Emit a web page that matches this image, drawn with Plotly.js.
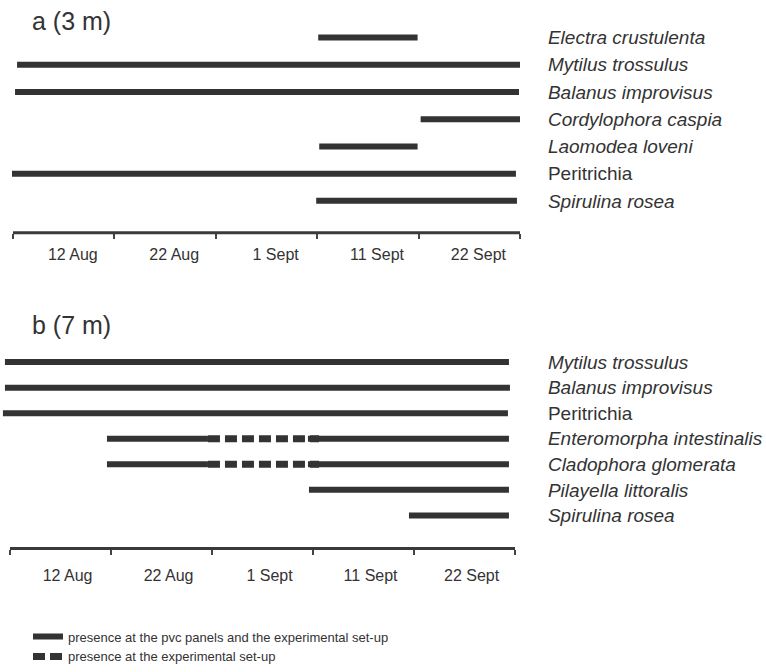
<!DOCTYPE html>
<html>
<head>
<meta charset="utf-8">
<script src="https://cdn.plot.ly/plotly-3.0.1.min.js"></script>
<style>html,body{margin:0;padding:0;background:#fff;}#chart{width:766px;height:672px;}</style>
</head>
<body>
<div id="chart"></div>
<script>
// ---- data (days counted from the first tick of each time axis; ticks every 10 days) ----
const tickLabels = ['12 Aug', '22 Aug', '1 Sept', '11 Sept', '22 Sept'];
const tickMarks = [0, 10, 20, 30, 40, 50];
const labelPosA = [5.9, 15.9, 25.9, 35.9, 45.9];
const labelPosB = [5.7, 15.7, 25.7, 35.7, 45.7];

// panel a (3 m)
const speciesA = ['Electra crustulenta', 'Mytilus trossulus', 'Balanus improvisus', 'Cordylophora caspia', 'Laomodea loveni', 'Peritrichia', 'Spirulina rosea'];
const italicA = [true, true, true, true, true, false, true];
const startA = [30.1, 0.4, 0.2, 40.2, 30.2, -0.1, 29.9];
const endA = [39.9, 50.0, 49.9, 50.0, 39.9, 49.6, 49.7];

// panel b (7 m)
const speciesB = ['Mytilus trossulus', 'Balanus improvisus', 'Peritrichia', 'Enteromorpha intestinalis', 'Cladophora glomerata', 'Pilayella littoralis', 'Spirulina rosea'];
const italicB = [true, true, false, true, true, true, true];
const solidSpeciesB = ['Mytilus trossulus', 'Balanus improvisus', 'Peritrichia', 'Enteromorpha intestinalis', 'Enteromorpha intestinalis', 'Cladophora glomerata', 'Cladophora glomerata', 'Pilayella littoralis', 'Spirulina rosea'];
const solidStartB = [-0.5, -0.5, -0.7, 9.6, 29.5, 9.6, 29.5, 29.6, 39.5];
const solidEndB = [49.4, 49.5, 49.3, 19.6, 49.4, 19.6, 49.4, 49.4, 49.4];
const dashSpeciesB = ['Enteromorpha intestinalis', 'Cladophora glomerata'];
const dashStartB = [19.6, 19.6];
const dashEndB = [30.6, 30.6];

const legendSolid = 'presence at the pvc panels and the experimental set-up';
const legendDash = 'presence at the experimental set-up';

// ---- helpers ----
function segments(names, starts, ends) {
  const x = [], y = [];
  names.forEach((n, i) => { x.push(starts[i], ends[i], null); y.push(n, n, null); });
  return {x, y};
}
function fmt(names, ital) { return names.map((n, i) => ital[i] ? '<i>' + n + '</i>' : n); }

const INK = '#333333';
const SANS = '"Liberation Sans", Arial, Helvetica, sans-serif';

const sA = segments(speciesA, startA, endA);
const sB = segments(solidSpeciesB, solidStartB, solidEndB);
const dB = segments(dashSpeciesB, dashStartB, dashEndB);

const traces = [
  {x: sA.x, y: sA.y, xaxis: 'x', yaxis: 'y', mode: 'lines', type: 'scatter',
   line: {color: INK, width: 6}, name: legendSolid, legendgroup: 'solid', showlegend: true, hoverinfo: 'skip'},
  {x: sB.x, y: sB.y, xaxis: 'x2', yaxis: 'y2', mode: 'lines', type: 'scatter',
   line: {color: INK, width: 6}, name: legendSolid, legendgroup: 'solid', showlegend: false, hoverinfo: 'skip'},
  {x: dB.x, y: dB.y, xaxis: 'x2', yaxis: 'y2', mode: 'lines', type: 'scatter',
   line: {color: INK, width: 7, dash: '12px,5px'}, name: legendDash, legendgroup: 'dash', showlegend: true, hoverinfo: 'skip'}
];

function xAxis(range, labelPos, anchor, standoff) {
  return {
    domain: [0, 1], range: range, anchor: anchor,
    showgrid: false, zeroline: false, showline: false,
    tickmode: 'array', tickvals: labelPos, ticktext: tickLabels, ticks: '',
    ticklabelstandoff: standoff,
    tickfont: {family: SANS, size: 16, color: INK},
    minor: {tickmode: 'array', tickvals: tickMarks, ticks: 'outside', ticklen: 5, tickwidth: 2, tickcolor: '#444', showgrid: false},
    fixedrange: true
  };
}
function yAxis(names, ital, domain, range) {
  return {
    type: 'category', categoryorder: 'array', categoryarray: names,
    domain: domain, range: range, anchor: 'free', position: 0.714, side: 'right',
    showgrid: false, zeroline: false, showline: false, ticks: '',
    tickmode: 'array', tickvals: names, ticktext: fmt(names, ital),
    tickfont: {family: SANS, size: 19, color: INK},
    fixedrange: true
  };
}

const layout = {
  width: 766, height: 672,
  margin: {l: 0, r: 0, t: 0, b: 0},
  paper_bgcolor: '#fff', plot_bgcolor: 'rgba(0,0,0,0)',
  showlegend: true,
  legend: {x: 28 / 766, y: 1 - 630 / 672, xanchor: 'left', yanchor: 'top',
           font: {family: SANS, size: 13, color: INK}, itemwidth: 30, tracegroupgap: 0,
           bgcolor: 'rgba(0,0,0,0)'},
  xaxis: xAxis([-1.282, 74.26], labelPosA, 'y', 10),
  xaxis2: xAxis([-0.990, 74.85], labelPosB, 'y2', 15),
  yaxis: yAxis(speciesA, italicA, [1 - 236 / 672, 1 - 10 / 672], [7.174, -1.014]),
  yaxis2: yAxis(speciesB, italicB, [1 - 556 / 672, 1 - 300 / 672], [7.297, -2.587]),
  shapes: [
    {type: 'line', xref: 'x', yref: 'y domain', x0: tickMarks[0], x1: tickMarks[tickMarks.length - 1], y0: 0, y1: 0,
     line: {color: '#3a3a3a', width: 3}},
    {type: 'line', xref: 'x2', yref: 'y2 domain', x0: tickMarks[0], x1: tickMarks[tickMarks.length - 1], y0: 0, y1: 0,
     line: {color: '#3a3a3a', width: 3}}
  ],
  annotations: [
    {text: 'a (3 m)', xref: 'paper', yref: 'paper', x: 30 / 766, y: 1 - 21 / 672, xanchor: 'left', yanchor: 'middle',
     showarrow: false, font: {family: SANS, size: 25, color: INK}},
    {text: 'b (7 m)', xref: 'paper', yref: 'paper', x: 30 / 766, y: 1 - 329 / 672, xanchor: 'left', yanchor: 'middle',
     showarrow: false, font: {family: SANS, size: 25, color: INK}}
  ]
};

Plotly.newPlot('chart', traces, layout, {staticPlot: true, displayModeBar: false});
</script>
</body>
</html>
